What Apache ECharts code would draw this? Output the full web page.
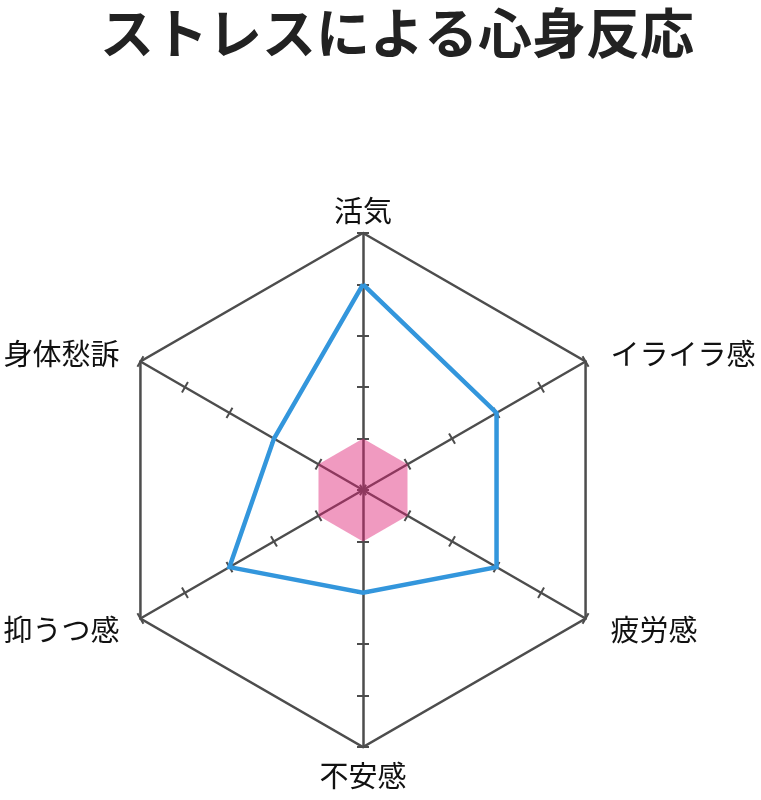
<!DOCTYPE html>
<html>
<head>
<meta charset="utf-8">
<title>ストレスによる心身反応</title>
<script src="https://cdn.jsdelivr.net/npm/echarts@6/dist/echarts.min.js"></script>
<style>
  html, body { margin: 0; padding: 0; background: #fff; }
  #main { width: 761px; height: 800px; }
</style>
</head>
<body>
<div id="main"></div>
<script>
// indicators in the order echarts lays them out (from top, counter-clockwise)
var categories = ['活気', '身体愁訴', '抑うつ感', '不安感', '疲労感', 'イライラ感'];
var stressValues = [4, 2, 3, 2, 3, 3];
var baseValues = [1, 1, 1, 1, 1, 1];
var maxValue = 5;

// which labels sit above / below the side corners, or at the bottom
var upperSide = ['身体愁訴', 'イライラ感'];
var lowerSide = ['抑うつ感', '疲労感'];
var bottomName = ['不安感'];

var font = "'Noto Sans CJK JP', 'Noto Sans', sans-serif";
var axisColor = '#4d4d4d';

var indicators = categories.map(function (name) {
  return { name: name, min: 0, max: maxValue };
});

function nameStyle(pad) {
  return { fontFamily: font, fontSize: 29, color: '#111', padding: pad };
}

var chart = echarts.init(document.getElementById('main'));
chart.setOption({
  animation: false,
  title: {
    text: 'ストレスによる心身反応',
    left: 100,
    top: 6,
    padding: 0,
    textStyle: {
      fontFamily: font,
      fontSize: 54,
      fontWeight: 'bold',
      color: '#222'
    }
  },
  radar: [
    {
      center: [363, 490],
      radius: 257,
      startAngle: 90,
      splitNumber: 5,
      shape: 'polygon',
      indicator: indicators,
      axisName: {
        color: '#111',
        fontFamily: font,
        fontSize: 29,
        formatter: function (name) {
          if (upperSide.indexOf(name) >= 0) return '{up|' + name + '}';
          if (lowerSide.indexOf(name) >= 0) return '{dn|' + name + '}';
          if (bottomName.indexOf(name) >= 0) return '{bt|' + name + '}';
          return name;
        },
        rich: {
          up: nameStyle([0, 14, 8, 18]),
          dn: nameStyle([14, 14, 0, 18]),
          bt: nameStyle([6, 0, 0, 0])
        }
      },
      nameGap: 8,
      axisLine: { show: true, lineStyle: { color: axisColor, width: 2.5 } },
      axisTick: { show: true, length: 6, lineStyle: { color: axisColor, width: 2 } },
      splitLine: {
        show: true,
        lineStyle: {
          // only the outer ring is drawn
          color: ['rgba(0,0,0,0)', 'rgba(0,0,0,0)', 'rgba(0,0,0,0)', 'rgba(0,0,0,0)', 'rgba(0,0,0,0)', axisColor],
          width: 2.5
        }
      },
      splitArea: { show: false }
    },
    {
      // same axes again, only for the other half of each tick
      center: [363, 490],
      radius: 257,
      startAngle: 90,
      splitNumber: 5,
      shape: 'polygon',
      indicator: indicators,
      axisName: { show: false },
      axisLine: { show: false },
      axisTick: { show: true, length: -6, lineStyle: { color: axisColor, width: 2 } },
      splitLine: { show: false },
      splitArea: { show: false }
    }
  ],
  series: [
    {
      type: 'radar',
      radarIndex: 0,
      symbol: 'none',
      data: [{
        value: baseValues,
        lineStyle: { width: 0, opacity: 0 },
        areaStyle: { color: 'rgba(222,31,115,0.45)', opacity: 1 }
      }]
    },
    {
      type: 'radar',
      radarIndex: 0,
      symbol: 'none',
      data: [{
        value: stressValues,
        lineStyle: { color: '#3396dc', width: 4.5, join: 'miter' }
      }]
    }
  ]
});
</script>
</body>
</html>
